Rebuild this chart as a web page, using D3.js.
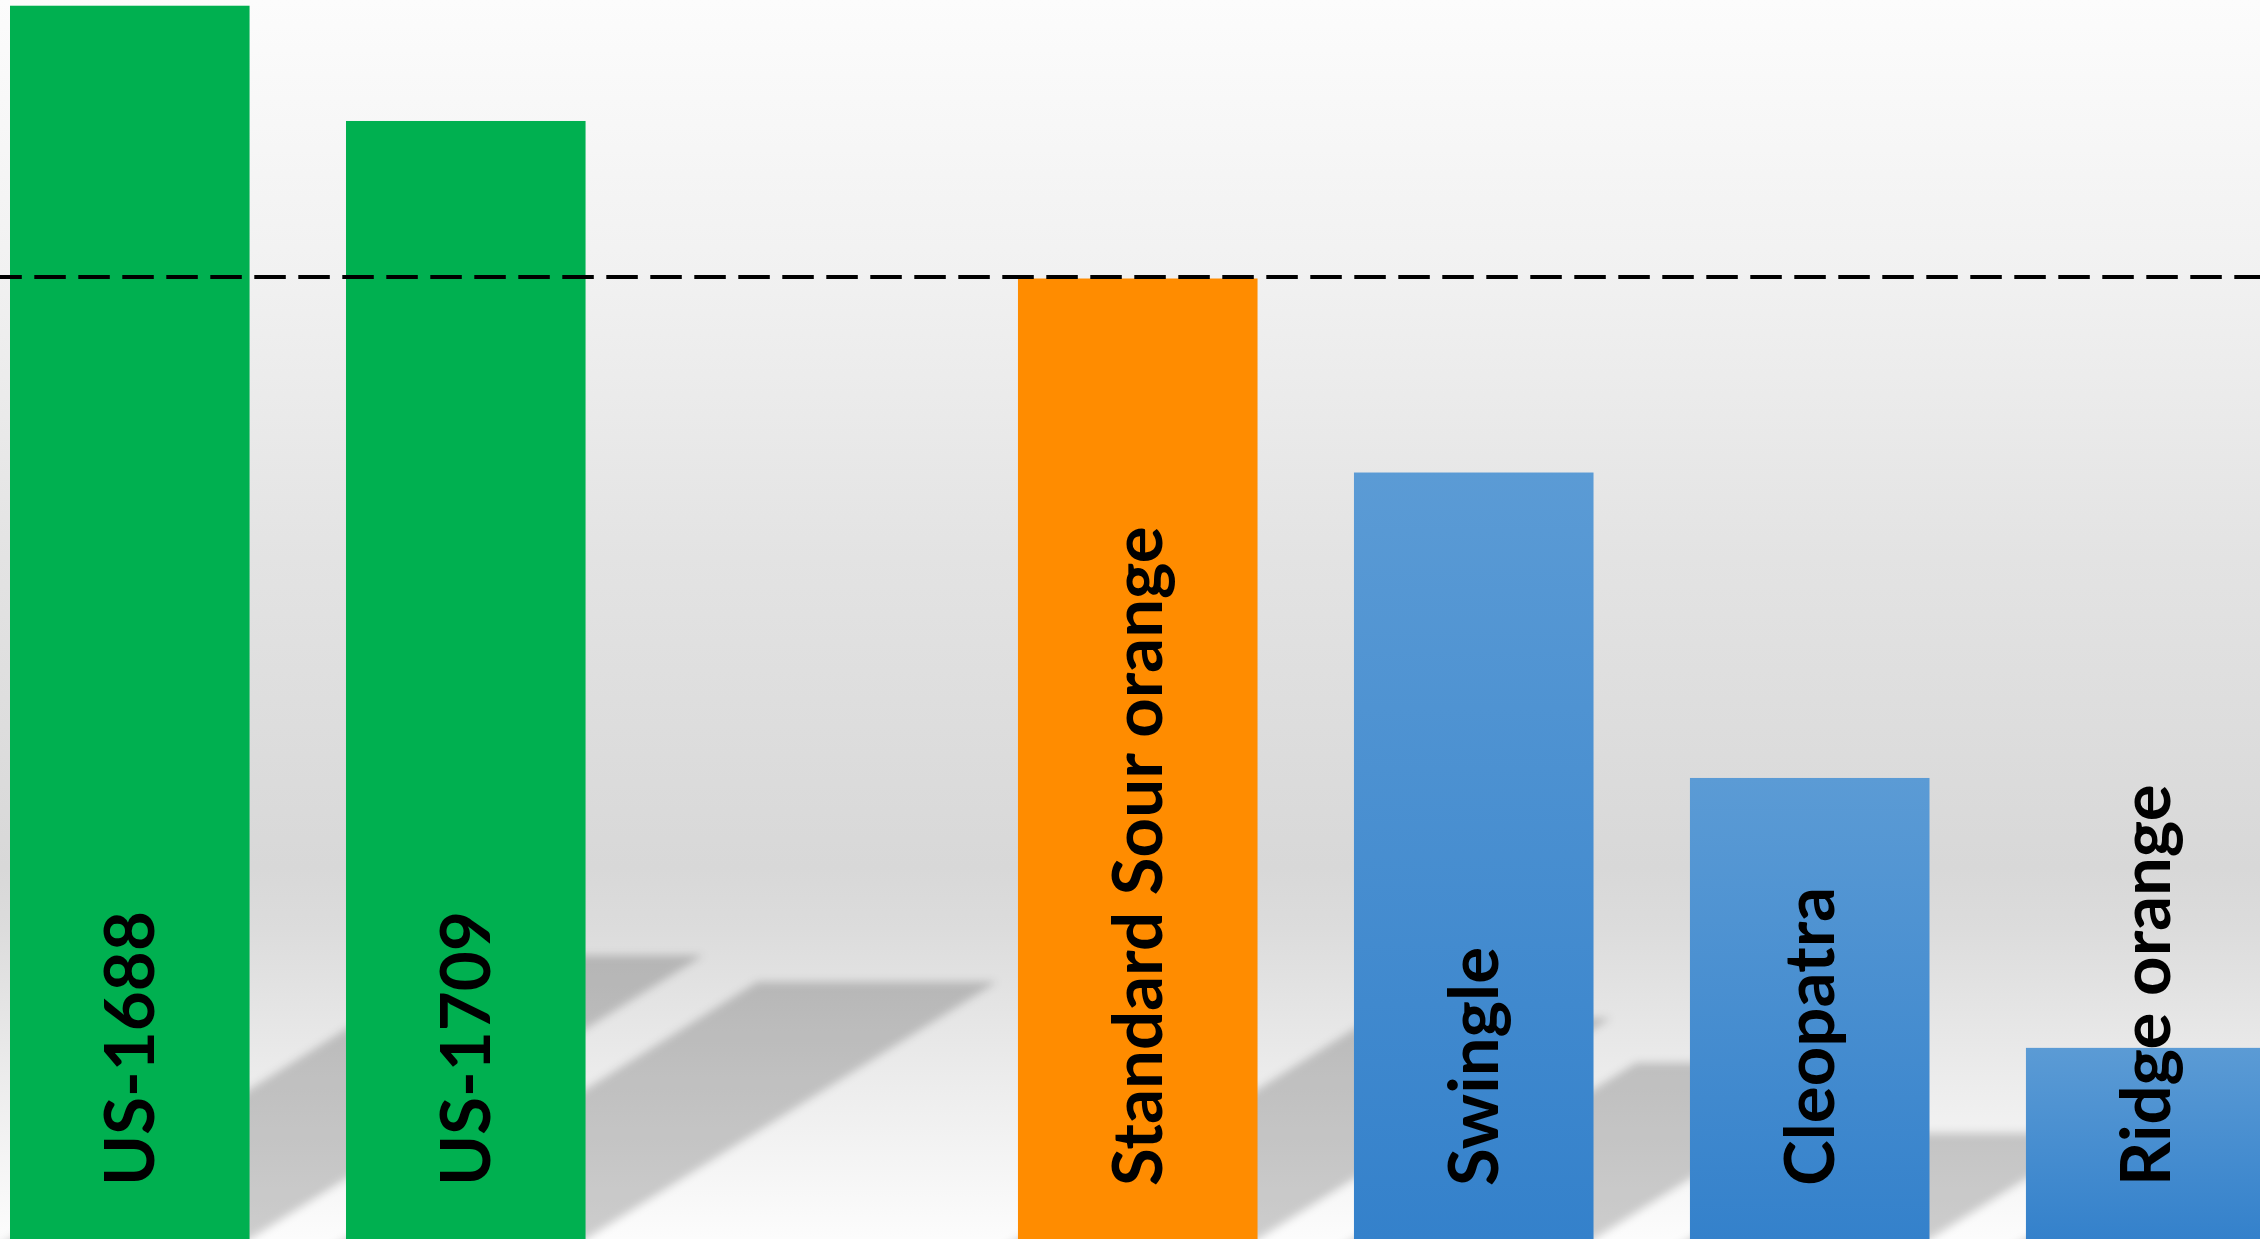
<!DOCTYPE html>
<html>
<head>
<meta charset="utf-8">
<script src="https://cdn.jsdelivr.net/npm/d3@7"></script>
<style>
  html, body { margin: 0; padding: 0; background: #ffffff; overflow: hidden; }
  svg { display: block; }
</style>
</head>
<body>
<svg id="chart" width="2260" height="1239"></svg>
<script>
// ---- data ----
const categories = ["US-1688", "US-1709", "", "Standard Sour orange", "Swingle", "Cleopatra", "Ridge orange"];
const values     = [128.4, 116.4, null, 100, 79.8, 48.0, 19.9];
const groups     = ["new", "new", null, "standard", "other", "other", "other"];
const referenceValue = 100;

// ---- layout ----
const W = 2260, H = 1239;
const svg = d3.select("#chart");

const x = d3.scaleBand()
  .domain(categories.map((c, i) => i))
  .range([10, 2265.5])
  .paddingInner(0.287)
  .paddingOuter(0);

const y = d3.scaleLinear().domain([0, 100]).range([1239, 278.5]);

const defs = svg.append("defs");

// background gradient
const bg = defs.append("linearGradient").attr("id", "bg")
  .attr("x1", 0).attr("y1", 0).attr("x2", 0).attr("y2", 1);
[[0, "#fcfcfc"], [0.22, "#f1f1f1"], [0.45, "#e3e3e3"], [0.70, "#d8d8d8"],
 [0.75, "#dcdcdc"], [0.87, "#ececec"], [1, "#fcfcfc"]].forEach(([o, c]) =>
  bg.append("stop").attr("offset", o).attr("stop-color", c));

// blue bar gradient
const blue = defs.append("linearGradient").attr("id", "blueGrad")
  .attr("x1", 0).attr("y1", 0).attr("x2", 0).attr("y2", 1);
blue.append("stop").attr("offset", 0).attr("stop-color", "#5b9bd5");
blue.append("stop").attr("offset", 1).attr("stop-color", "#3481cb");

// shadow blur
defs.append("filter").attr("id", "blur")
  .attr("x", "-10%").attr("y", "-10%").attr("width", "120%").attr("height", "120%")
  .append("feGaussianBlur").attr("stdDeviation", 4);

svg.append("rect").attr("width", W).attr("height", H).attr("fill", "url(#bg)");

const data = categories.map((c, i) => ({ c, i, v: values[i], g: groups[i] }))
  .filter(d => d.v != null);

const fillFor = g => g === "new" ? "#00b050" : g === "standard" ? "#ff8c00" : "url(#blueGrad)";

// shadows (sheared footprints on the floor)
const shear = 1.6, shadowRatio = 0.23;
svg.append("g").attr("class", "shadows")
  .selectAll("path").data(data).join("path")
  .attr("d", d => {
    const x0 = x(d.i), x1 = x(d.i) + x.bandwidth();
    const base = y(0);
    const L = (base - y(d.v)) * shadowRatio;
    const s = L * shear;
    return `M${x0 - 32},${base + 20}L${x1 - 32},${base + 20}L${x1 + s},${base - L}L${x0 + s},${base - L}Z`;
  })
  .attr("fill", "#000")
  .attr("fill-opacity", 0.19)
  .attr("filter", "url(#blur)");

// bars
svg.append("g").attr("class", "bars")
  .selectAll("rect").data(data).join("rect")
  .attr("x", d => x(d.i))
  .attr("width", x.bandwidth())
  .attr("y", d => y(d.v))
  .attr("height", d => y(0) - y(d.v))
  .attr("fill", d => fillFor(d.g));

// reference dashed line
svg.append("line")
  .attr("x1", 0).attr("x2", W)
  .attr("y1", y(referenceValue) - 1.5).attr("y2", y(referenceValue) - 1.5)
  .attr("stroke", "#000")
  .attr("stroke-width", 4)
  .attr("stroke-dasharray", "31.5,12.5")
  .attr("stroke-dashoffset", 9.7);

// labels inside bars
svg.append("g").attr("class", "labels")
  .selectAll("text").data(data).join("text")
  .attr("transform", d => `translate(${x(d.i) + x.bandwidth() / 2},${1186}) rotate(-90)`)
  .attr("dy", 24)
  .attr("text-anchor", "start")
  .attr("font-family", "Lato, 'Open Sans', sans-serif")
  .attr("font-weight", "bold")
  .attr("font-size", 69)
  .attr("fill", "#000")
  .text(d => d.c);
</script>
</body>
</html>
